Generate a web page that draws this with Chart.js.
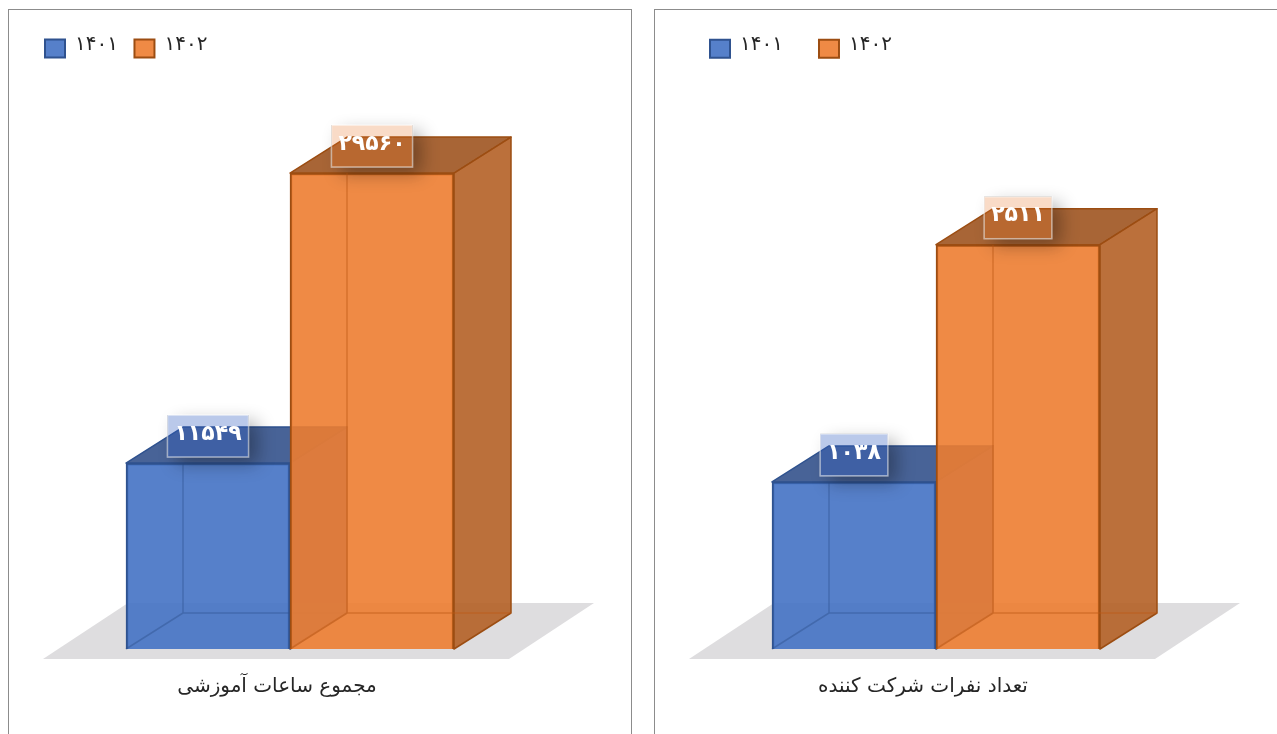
<!DOCTYPE html>
<html lang="fa">
<head>
<meta charset="utf-8">
<title>Chart</title>
<script src="https://cdn.jsdelivr.net/npm/chart.js@4"></script>
<style>
    html, body { margin: 0; padding: 0; background: #fff; overflow: hidden; }
    body { width: 1277px; height: 734px; position: relative; }
    .panel { position: absolute; top: 9px; height: 740px; border: 1px solid #8c8c8c; box-sizing: border-box; }
    #panelHours { left: 8px; width: 624px; }
    #panelPeople { left: 654px; width: 640px; }
    canvas { position: absolute; top: 0; left: 0; }
</style>
</head>
<body>
<div class="panel" id="panelHours"></div>
<div class="panel" id="panelPeople"></div>
<div style="position:absolute;left:10px;top:0;width:620px;height:734px"><canvas id="hoursChart"></canvas></div>
<div style="position:absolute;left:656px;top:0;width:621px;height:734px"><canvas id="peopleChart"></canvas></div>
<script>
const seriesNames = ['۱۴۰۱', '۱۴۰۲'];

const hoursCategory = ['مجموع ساعات آموزشی'];
const hours1401 = [11549];
const hours1402 = [29560];

const peopleCategory = ['تعداد نفرات شرکت کننده'];
const people1401 = [1038];
const people1402 = [2511];

const FONT = '"DejaVu Sans", "Noto Sans", sans-serif';
const DEPTH_X = 57;
const DEPTH_Y = 36;

const seriesStyles = [
    { front: 'rgba(68, 114, 196, 0.9)', top: 'rgba(52, 82, 140, 0.9)', side: 'rgba(60, 96, 165, 0.9)', edge: '#2f528f', inner: 'rgba(47, 82, 143, 0.45)', tag: 'rgba(45, 90, 190, 0.33)' },
    { front: 'rgba(237, 125, 49, 0.9)', top: 'rgba(158, 84, 32, 0.9)', side: 'rgba(180, 96, 38, 0.9)', edge: '#9c4d12', inner: 'rgba(190, 90, 20, 0.5)', tag: 'rgba(232, 110, 30, 0.25)' }
];

function toPersianDigits(n) {
    return String(n).replace(/\d/g, d => '۰۱۲۳۴۵۶۷۸۹'[d]);
}

function poly(ctx, pts, fill, stroke) {
    ctx.beginPath();
    pts.forEach((p, i) => i ? ctx.lineTo(p[0], p[1]) : ctx.moveTo(p[0], p[1]));
    ctx.closePath();
    if (fill) { ctx.fillStyle = fill; ctx.fill(); }
    if (stroke) { ctx.strokeStyle = stroke; ctx.lineWidth = 1.5; ctx.lineJoin = 'round'; ctx.stroke(); }
}

function drawFaces(ctx, bar, style) {
    const l = bar.x - bar.width / 2, r = bar.x + bar.width / 2, t = bar.y, b = bar.base;
    ctx.save();
    poly(ctx, [[l, t], [l + DEPTH_X, t - DEPTH_Y], [r + DEPTH_X, t - DEPTH_Y], [r, t]], style.top, style.edge);
    poly(ctx, [[r, t], [r + DEPTH_X, t - DEPTH_Y], [r + DEPTH_X, b - DEPTH_Y], [r, b]], style.side, style.edge);
    // back edges showing through the glass
    ctx.strokeStyle = style.inner;
    ctx.lineWidth = 1.5;
    ctx.beginPath();
    ctx.moveTo(l + DEPTH_X, t);
    ctx.lineTo(l + DEPTH_X, b - DEPTH_Y);
    ctx.lineTo(r + DEPTH_X, b - DEPTH_Y);
    ctx.moveTo(l, b);
    ctx.lineTo(l + DEPTH_X, b - DEPTH_Y);
    ctx.stroke();
    ctx.restore();
}

function drawTag(ctx, bar, text, style) {
    ctx.save();
    ctx.font = 'bold 22px ' + FONT;
    const w = ctx.measureText(text).width + 14;
    const x = bar.x - w / 2, y = bar.y - 48;

    // soft shadow outside the box only, the box itself stays see-through
    ctx.save();
    ctx.beginPath();
    ctx.rect(0, 0, ctx.canvas.width, ctx.canvas.height);
    ctx.rect(x, y, w, 42);
    ctx.clip('evenodd');
    ctx.shadowColor = 'rgba(0, 0, 0, 0.32)';
    ctx.shadowBlur = 18;
    ctx.shadowOffsetX = 9;
    ctx.shadowOffsetY = 7;
    ctx.fillStyle = '#000';
    ctx.fillRect(x, y, w, 42);
    ctx.restore();

    ctx.fillStyle = style.tag;
    ctx.fillRect(x, y, w, 42);
    ctx.strokeStyle = 'rgba(255, 255, 255, 0.55)';
    ctx.lineWidth = 1.5;
    ctx.strokeRect(x, y, w, 42);
    ctx.fillStyle = '#fff';
    ctx.textAlign = 'center';
    ctx.textBaseline = 'middle';
    ctx.fillText(text, bar.x, y + 19);
    ctx.restore();
}

// Chart.js has no 3D bars, and it paints the first dataset last. Painting is taken over
// here so the second bar lies over the first, with the extra faces around each element.
const box3d = {
    id: 'box3d',
    beforeDatasetsDraw(chart) {
        const { ctx, chartArea, scales } = chart;
        const base = scales.y.getPixelForValue(0);
        ctx.save();
        poly(ctx, [
            [chartArea.left - 83, base + 10],
            [chartArea.right + 55, base + 10],
            [chartArea.right + 140, base - 46],
            [chartArea.left + 2, base - 46]
        ], '#dedddf');
        ctx.restore();
    },
    beforeDatasetDraw() {
        return false;
    },
    afterDatasetsDraw(chart) {
        const { ctx } = chart;
        chart.data.datasets.forEach((ds, i) => {
            const meta = chart.getDatasetMeta(i);
            meta.controller.draw();
            drawFaces(ctx, meta.data[0], seriesStyles[i]);
        });
        chart.data.datasets.forEach((ds, i) => {
            drawTag(ctx, chart.getDatasetMeta(i).data[0], toPersianDigits(ds.data[0]), seriesStyles[i]);
        });
    }
};

// legend height is pinned so the plot area starts at the same place in both charts,
// and the legend text sits a little above the middle of its swatch
const legendTweaks = {
    id: 'legendTweaks',
    beforeInit(chart) {
        const legend = chart.legend;
        const fit = legend.fit;
        const draw = legend.draw;
        legend.fit = function () {
            fit.call(this);
            this.height = chart.options.plugins.legendTweaks.height;
        };
        legend.draw = function () {
            const ctx = this.ctx;
            const fillText = ctx.fillText;
            ctx.fillText = (t, x, y, m) => fillText.call(ctx, t, x, y - 4, m);
            draw.call(this);
            delete ctx.fillText;
        };
    }
};

function buildChart(canvasId, category, values1401, values1402, cfg) {
    const canvas = document.getElementById(canvasId);
    canvas.width = cfg.width;
    canvas.height = 734;
    canvas.style.width = cfg.width + 'px';
    canvas.style.height = '734px';
    return new Chart(canvas.getContext('2d'), {
        type: 'bar',
        data: {
            labels: category,
            datasets: [
                { label: seriesNames[0], data: values1401, backgroundColor: seriesStyles[0].front, borderColor: seriesStyles[0].edge, borderWidth: 2 },
                { label: seriesNames[1], data: values1402, backgroundColor: seriesStyles[1].front, borderColor: seriesStyles[1].edge, borderWidth: 2 }
            ]
        },
        options: {
            responsive: false,
            animation: false,
            layout: { padding: { left: cfg.padLeft, right: cfg.padRight, top: cfg.padTop, bottom: 0 } },
            datasets: { bar: { barPercentage: 1, categoryPercentage: 1 } },
            plugins: {
                tooltip: { enabled: false },
                legendTweaks: { height: cfg.legendHeight },
                legend: {
                    position: 'top',
                    align: 'start',
                    labels: {
                        boxWidth: 20,
                        boxHeight: 18,
                        padding: cfg.legendGap,
                        color: '#262626',
                        font: { family: FONT, size: 20 }
                    }
                }
            },
            scales: {
                x: {
                    grid: { display: false },
                    border: { display: false },
                    afterFit(scale) { scale.height = 85; },
                    ticks: {
                        padding: 18,
                        labelOffset: -13,
                        maxRotation: 0,
                        autoSkip: false,
                        color: '#262626',
                        font: { family: FONT, size: 20 }
                    }
                },
                y: {
                    min: 0,
                    max: cfg.max,
                    grid: { display: false },
                    border: { display: false },
                    ticks: { display: false },
                    afterFit(scale) { scale.width = cfg.axisWidth; }
                }
            }
        },
        plugins: [box3d, legendTweaks]
    });
}

document.addEventListener('DOMContentLoaded', function () {
    buildChart('hoursChart', hoursCategory, hours1401, hours1402, {
        width: 620, padLeft: 18.5, padRight: 176, padTop: 22, legendGap: 16.5, legendHeight: 47.4, axisWidth: 97.5, max: 36000
    });
    buildChart('peopleChart', peopleCategory, people1401, people1402, {
        width: 621, padLeft: 18, padRight: 177, padTop: 2.8, legendGap: 36, legendHeight: 66.6, axisWidth: 98, max: 3600
    });
});
</script>
</body>
</html>
